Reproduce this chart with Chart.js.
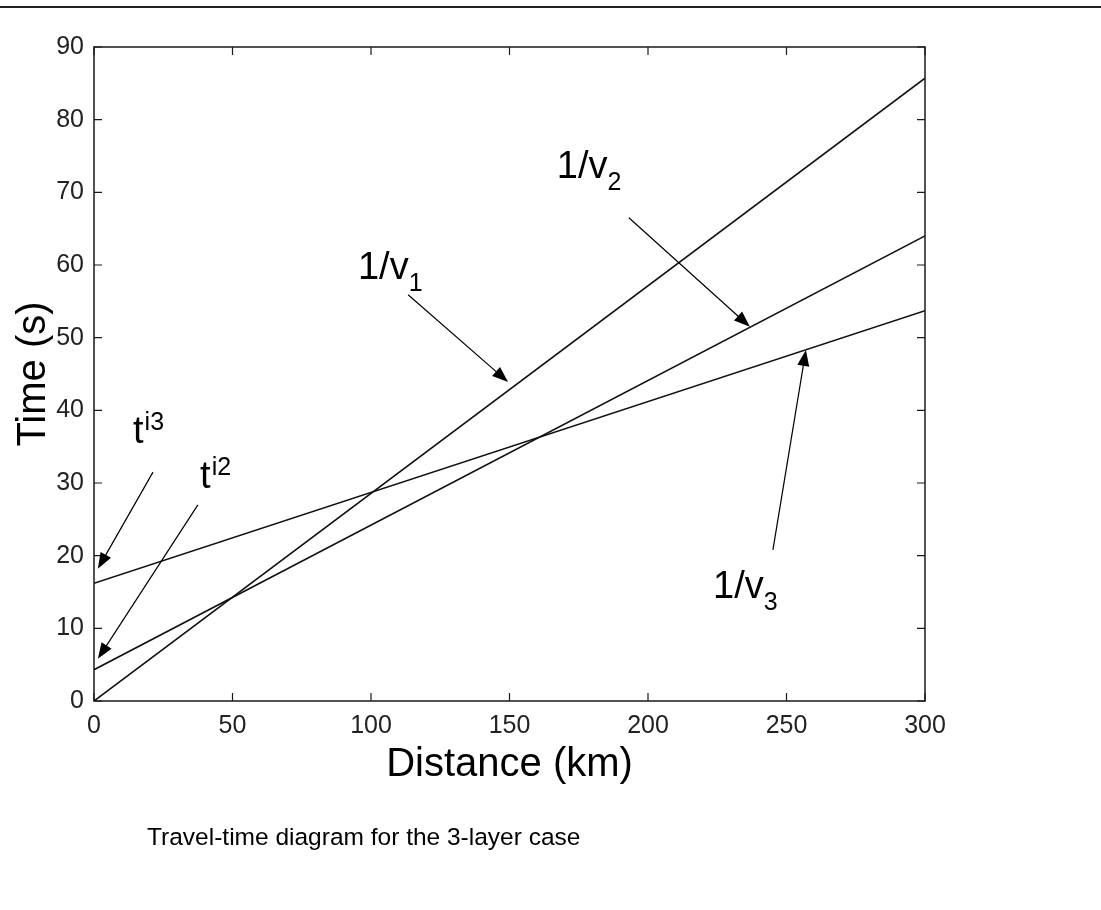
<!DOCTYPE html>
<html>
<head>
<meta charset="utf-8">
<script src="https://cdn.jsdelivr.net/npm/chart.js@4.4.1/dist/chart.umd.min.js"></script>
<style>
  html, body { margin: 0; padding: 0; background: #fff; }
  #wrap { width: 1101px; height: 910px; }
</style>
</head>
<body>
<div id="wrap"><canvas id="travelChart" width="1101" height="910"></canvas></div>
<script>
// data
const distance = [0, 300];           // km
const tDirect = [0, 85.7];           // 1/v1
const tRefr2 = [4.3, 64.0];          // 1/v2
const tRefr3 = [16.2, 53.7];         // 1/v3

const xTicks = [0, 50, 100, 150, 200, 250, 300];
const yTicks = [0, 10, 20, 30, 40, 50, 60, 70, 80, 90];

// annotation text: main part, sub/superscript, anchor in data units (distance, time)
const noteMain = ['1/v', '1/v', '1/v', 't', 't'];
const noteScript = ['1', '2', '3', 'i3', 'i2'];
const noteSuper = [false, false, false, true, true];
const noteX = [95.3, 167.1, 223.5, 14.1, 38.3];
const noteY = [58.1, 72.0, 14.2, 35.5, 29.3];

// arrows: tail -> head in data units
const arrowFromX = [113.4, 193.1, 245.1, 21.3, 37.5];
const arrowFromY = [55.9, 66.5, 20.8, 31.5, 27.0];
const arrowToX = [149.5, 236.8, 257.0, 1.4, 1.4];
const arrowToY = [43.9, 51.5, 48.3, 18.2, 5.8];

const SANS = "'Liberation Sans', Arial, Helvetica, sans-serif";

function toPoints(ys) {
    return distance.map((d, i) => ({ x: d, y: ys[i] }));
}

function drawArrow(ctx, x1, y1, x2, y2) {
    const ang = Math.atan2(y2 - y1, x2 - x1);
    const len = 16, half = 6;
    ctx.beginPath();
    ctx.moveTo(x1, y1);
    ctx.lineTo(x2 - Math.cos(ang) * len * 0.8, y2 - Math.sin(ang) * len * 0.8);
    ctx.stroke();
    ctx.beginPath();
    ctx.moveTo(x2, y2);
    ctx.lineTo(x2 - Math.cos(ang) * len - Math.sin(ang) * half, y2 - Math.sin(ang) * len + Math.cos(ang) * half);
    ctx.lineTo(x2 - Math.cos(ang) * len + Math.sin(ang) * half, y2 - Math.sin(ang) * len - Math.cos(ang) * half);
    ctx.closePath();
    ctx.fill();
}

// box, inward ticks, titles, caption and annotations
const decorPlugin = {
    id: 'decor',
    afterDraw(chart) {
        const ctx = chart.ctx;
        const a = chart.chartArea;
        const xs = chart.scales.x, ys = chart.scales.y;
        ctx.save();

        // rule across the top of the page
        ctx.strokeStyle = '#222';
        ctx.lineWidth = 2;
        ctx.beginPath();
        ctx.moveTo(0, 7);
        ctx.lineTo(chart.width, 7);
        ctx.stroke();

        // axes box
        ctx.strokeStyle = '#1a1a1a';
        ctx.lineWidth = 1.5;
        ctx.strokeRect(a.left, a.top, a.right - a.left, a.bottom - a.top);

        // inward ticks on all four sides
        const tl = 8;
        ctx.lineWidth = 1.2;
        ctx.beginPath();
        xTicks.forEach(v => {
            const px = xs.getPixelForValue(v);
            ctx.moveTo(px, a.bottom); ctx.lineTo(px, a.bottom - tl);
            ctx.moveTo(px, a.top); ctx.lineTo(px, a.top + tl);
        });
        yTicks.forEach(v => {
            const py = ys.getPixelForValue(v);
            ctx.moveTo(a.left, py); ctx.lineTo(a.left + tl, py);
            ctx.moveTo(a.right, py); ctx.lineTo(a.right - tl, py);
        });
        ctx.stroke();

        // axis titles
        ctx.fillStyle = '#000';
        ctx.font = '40px ' + SANS;
        ctx.textAlign = 'center';
        ctx.textBaseline = 'alphabetic';
        ctx.fillText('Distance (km)', (a.left + a.right) / 2, a.bottom + 75);
        ctx.save();
        ctx.translate(a.left - 49, (a.top + a.bottom) / 2);
        ctx.rotate(-Math.PI / 2);
        ctx.fillText('Time (s)', 0, 0);
        ctx.restore();

        // caption below the chart
        ctx.font = '24.5px ' + SANS;
        ctx.textAlign = 'left';
        ctx.fillText('Travel-time diagram for the 3-layer case', 147, 845);

        // arrows
        ctx.strokeStyle = '#000';
        ctx.fillStyle = '#000';
        ctx.lineWidth = 1.2;
        arrowFromX.forEach((fx, i) => {
            drawArrow(ctx,
                xs.getPixelForValue(fx), ys.getPixelForValue(arrowFromY[i]),
                xs.getPixelForValue(arrowToX[i]), ys.getPixelForValue(arrowToY[i]));
        });

        // labels with sub/superscripts
        noteMain.forEach((txt, i) => {
            const px = xs.getPixelForValue(noteX[i]);
            const py = ys.getPixelForValue(noteY[i]);
            ctx.font = '38px ' + SANS;
            ctx.textAlign = 'left';
            ctx.fillText(txt, px, py);
            const w = ctx.measureText(txt).width;
            ctx.font = '25px ' + SANS;
            ctx.fillText(noteScript[i], px + w + (noteSuper[i] ? 1 : 0), py + (noteSuper[i] ? -13 : 12));
        });

        ctx.restore();
    }
};

const lineStyle = {
    borderColor: '#111',
    borderWidth: 1.6,
    pointRadius: 0,
    showLine: true,
    fill: false,
    tension: 0
};

const ctx = document.getElementById('travelChart').getContext('2d');
const travelChart = new Chart(ctx, {
    type: 'scatter',
    data: {
        datasets: [
            Object.assign({ label: '1/v1', data: toPoints(tDirect) }, lineStyle),
            Object.assign({ label: '1/v2', data: toPoints(tRefr2) }, lineStyle),
            Object.assign({ label: '1/v3', data: toPoints(tRefr3) }, lineStyle)
        ]
    },
    options: {
        responsive: false,
        animation: false,
        layout: { padding: { top: 47, right: 176, bottom: 0, left: 0 } },
        plugins: {
            legend: { display: false },
            tooltip: { enabled: false },
            title: { display: false }
        },
        scales: {
            x: {
                type: 'linear',
                min: 0,
                max: 300,
                afterFit(scale) { scale.height = 209; },
                afterBuildTicks(scale) { scale.ticks = xTicks.map(v => ({ value: v })); },
                grid: { display: false, drawTicks: false },
                border: { display: false },
                ticks: {
                    color: '#222',
                    padding: 10,
                    maxRotation: 0,
                    font: { family: "'Liberation Sans Narrow', " + SANS, size: 25 }
                }
            },
            y: {
                type: 'linear',
                min: 0,
                max: 90,
                afterFit(scale) { scale.width = 94; },
                afterBuildTicks(scale) { scale.ticks = yTicks.map(v => ({ value: v })); },
                grid: { display: false, drawTicks: false },
                border: { display: false },
                ticks: {
                    color: '#222',
                    padding: 10,
                    font: { family: "'Liberation Sans Narrow', " + SANS, size: 25 }
                }
            }
        }
    },
    plugins: [decorPlugin]
});
</script>
</body>
</html>
